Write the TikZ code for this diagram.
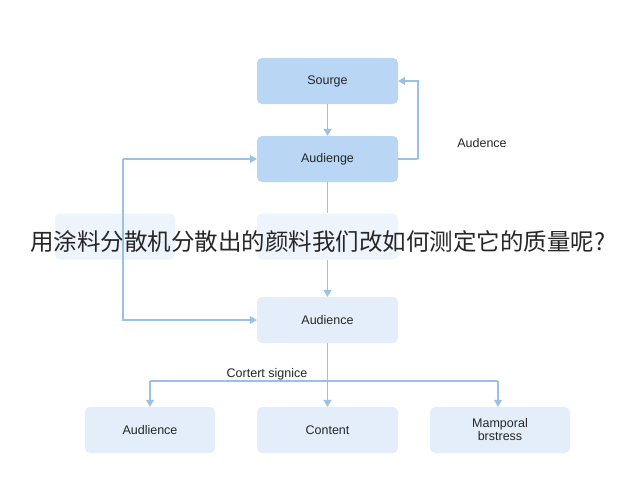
\documentclass[tikz,border=0pt]{standalone}
\usepackage{fontspec}
\setmainfont{Liberation Sans}
\newfontfamily\cjk{Noto Sans CJK SC}
\usetikzlibrary{arrows.meta}
\definecolor{dark}{HTML}{B9D6F5}
\definecolor{lite}{HTML}{E4EEFA}
\definecolor{faint}{HTML}{EEF4FC}
\definecolor{ln}{HTML}{9CC0E4}
\begin{document}
\begin{tikzpicture}[x=1pt,y=-1pt,
 box/.style={rounded corners=5pt,minimum width=141pt,minimum height=46pt,inner sep=0pt,font=\fontsize{12.5}{14}\selectfont,text=black!85},
 sbox/.style={box,minimum width=130pt},
 ar/.style={draw=ln,line width=1.2pt,-{Triangle[width=8pt,length=7pt]}},
 ln/.style={draw=ln,line width=1.2pt}]
\useasboundingbox (0,0) rectangle (640,480);
\fill[white] (0,0) rectangle (640,480);
\node[box,fill=dark] (src) at (327.5,81) {Sourge};
\node[box,fill=dark] (aud) at (327.5,159) {Audienge};
\node[box,fill=faint,minimum width=120pt] (hl) at (115,236.5) {};
\node[box,fill=faint] (hm) at (327.5,236.5) {};
\node[box,fill=lite] (a2) at (327.5,320) {Audience};
\node[sbox,fill=lite] (b1) at (150,430) {Audlience};
\node[sbox,fill=lite,minimum width=141pt] (b2) at (327.5,430) {Content};
\node[sbox,fill=lite,minimum width=140pt,align=center,font=\fontsize{12.5}{13}\selectfont] (b3) at (500,430) {Mamporal\\brstress};
\coordinate (r1) at (418,159);
\coordinate (r2) at (418,81);
\coordinate (l1) at (123,159);
\coordinate (l2) at (123,320);
\coordinate (s1) at (150,381);
\coordinate (s3) at (498,381);
\draw[ar] (src) -- (aud);
\draw[ln] (aud.east) -- (r1);
\draw[ar] (r1) -- (r2) -- (src.east);
\node[font=\fontsize{12.5}{14}\selectfont,text=black!85] (lab1) at (482,143) {Audence};
\draw[ar] (l1) -- (aud.west);
\draw[ar] (l1) -- (l2) -- (a2.west);
\draw[ln] (aud) -- (hm);
\draw[ar] (hm) -- (a2);
\draw[ar] (a2) -- (b2);
\draw[ln] (s1) -- (s3);
\draw[ar] (s1) -- (b1);
\draw[ar] (s3) -- (b3.north-|s3);
\node[font=\fontsize{12.5}{14}\selectfont,text=black!85] (lab2) at (267,374) {Cortert signice};
\node[font=\cjk\fontsize{23.5}{26}\selectfont,text=black!85] (t) at (318,242) {用涂料分散机分散出的颜料我们改如何测定它的质量呢?};
\end{tikzpicture}
\end{document}
